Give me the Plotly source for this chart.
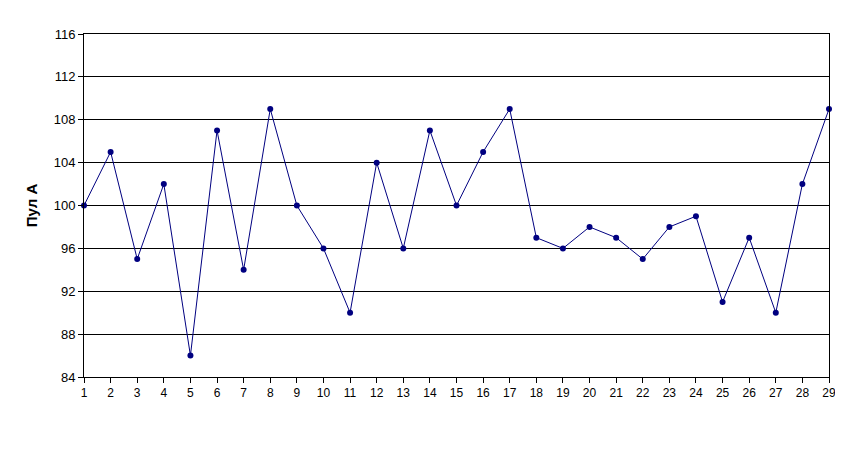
import plotly.graph_objects as go

x_vals = list(range(1, 30))
pul_a = [100, 105, 95, 102, 86, 107, 94, 109, 100, 96, 90, 104, 96, 107, 100,
         105, 109, 97, 96, 98, 97, 95, 98, 99, 91, 97, 90, 102, 109]
y_ticks = [84, 88, 92, 96, 100, 104, 108, 112, 116]
y_title = "Пул А"

fig = go.Figure()
fig.add_trace(go.Scatter(
    x=x_vals, y=pul_a, mode="lines+markers",
    line=dict(color="#000080", width=1),
    marker=dict(color="#000080", size=6),
    showlegend=False, cliponaxis=False,
))

fig.update_layout(
    width=835, height=453,
    margin=dict(l=76, r=7, t=26, b=84),
    paper_bgcolor="white", plot_bgcolor="white",
    font=dict(family="Liberation Sans, Arial", size=12, color="black"),
)
fig.update_xaxes(
    range=[1, 29], tickmode="array", tickvals=x_vals,
    ticktext=[str(v) for v in x_vals],
    showgrid=False, zeroline=False,
    ticks="outside", ticklen=5, tickcolor="black",
    showline=True, linecolor="black", linewidth=1, mirror=True,
    tickfont=dict(size=12),
)
fig.update_yaxes(
    range=[84, 116], tickmode="array", tickvals=y_ticks,
    showgrid=True, gridcolor="black", gridwidth=1, zeroline=False,
    ticks="outside", ticklen=5, tickcolor="black",
    showline=True, linecolor="black", linewidth=1, mirror=True,
    tickfont=dict(size=13),
    title=dict(text="<b>" + y_title + "</b>", font=dict(size=15), standoff=12),
)
fig.write_html("out.html")
